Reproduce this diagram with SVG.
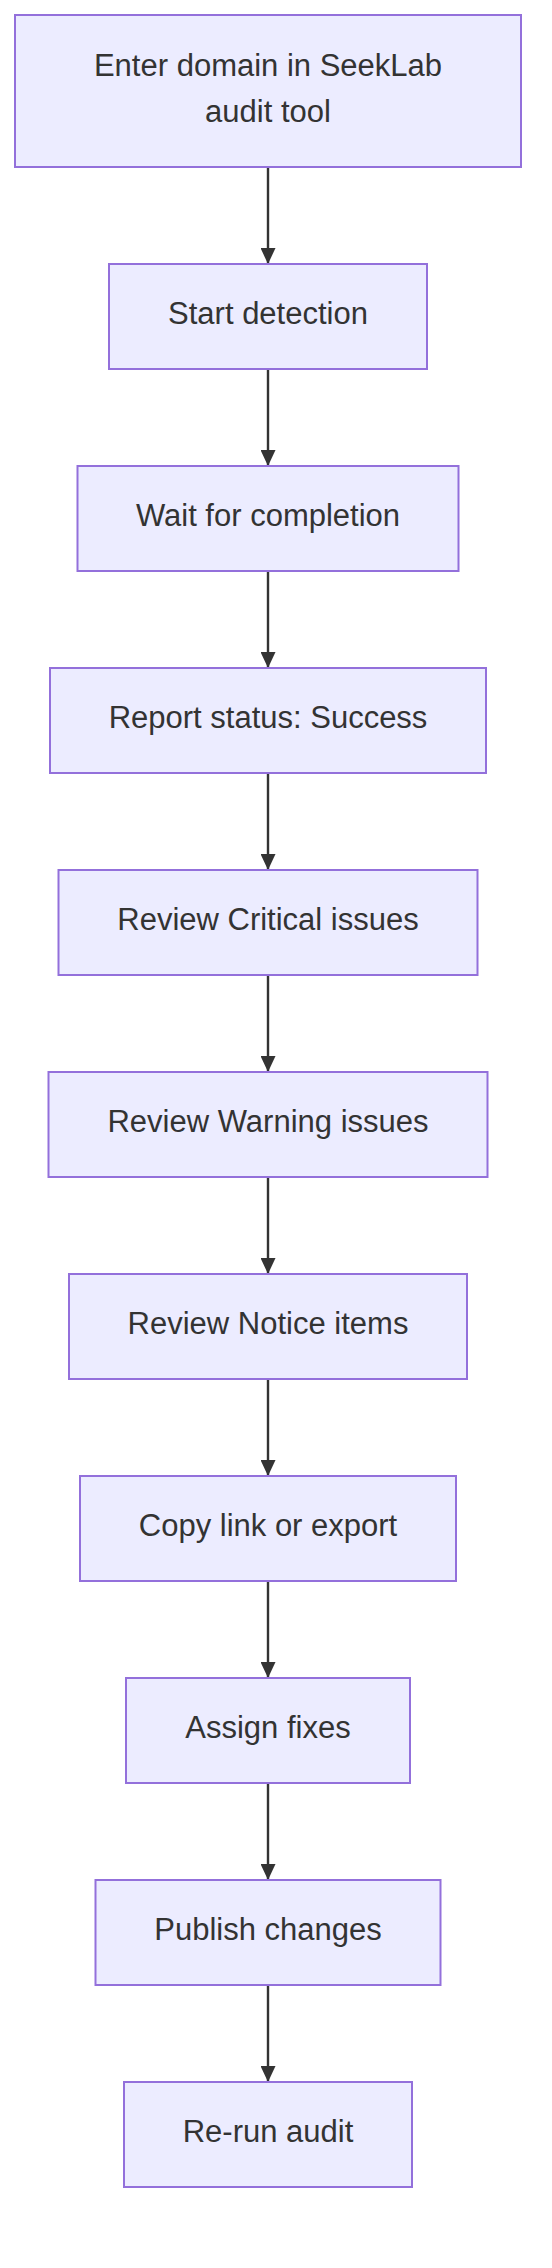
<svg xmlns="http://www.w3.org/2000/svg" width="552" height="2268" viewBox="0 0 552 2268">
<style>
.node rect{fill:#ECECFF;stroke:#9370DB;stroke-width:2}
.node text{font-family:"Liberation Sans",Arial,sans-serif;font-size:31px;fill:#333333;text-anchor:middle}
.edge{stroke:#333333;stroke-width:2.4;fill:none}
</style>
<defs>
<marker id="arrow" markerUnits="userSpaceOnUse" viewBox="0 0 16 15" refX="16" refY="7.5" markerWidth="16" markerHeight="15" orient="auto">
<path d="M0,0 L16,7.5 L0,15 Z" fill="#333333"/>
</marker>
</defs>
<rect width="552" height="2268" fill="#ffffff"/>
<g id="connectors">
<line class="edge" x1="268" y1="167" x2="268" y2="264" marker-end="url(#arrow)"/>
<line class="edge" x1="268" y1="369" x2="268" y2="466" marker-end="url(#arrow)"/>
<line class="edge" x1="268" y1="571" x2="268" y2="668" marker-end="url(#arrow)"/>
<line class="edge" x1="268" y1="773" x2="268" y2="870" marker-end="url(#arrow)"/>
<line class="edge" x1="268" y1="975" x2="268" y2="1072" marker-end="url(#arrow)"/>
<line class="edge" x1="268" y1="1177" x2="268" y2="1274" marker-end="url(#arrow)"/>
<line class="edge" x1="268" y1="1379" x2="268" y2="1476" marker-end="url(#arrow)"/>
<line class="edge" x1="268" y1="1581" x2="268" y2="1678" marker-end="url(#arrow)"/>
<line class="edge" x1="268" y1="1783" x2="268" y2="1880" marker-end="url(#arrow)"/>
<line class="edge" x1="268" y1="1985" x2="268" y2="2082" marker-end="url(#arrow)"/>
</g>
<g id="n1" class="node"><rect x="15" y="15" width="506" height="152"/><text x="268" y="76">Enter domain in SeekLab</text><text x="268" y="122">audit tool</text></g>
<g id="n2" class="node"><rect x="109" y="264" width="318" height="105"/><text x="268" y="324">Start detection</text></g>
<g id="n3" class="node"><rect x="77.5" y="466" width="381" height="105"/><text x="268" y="526">Wait for completion</text></g>
<g id="n4" class="node"><rect x="50" y="668" width="436" height="105"/><text x="268" y="728">Report status: Success</text></g>
<g id="n5" class="node"><rect x="58.5" y="870" width="419" height="105"/><text x="268" y="930">Review Critical issues</text></g>
<g id="n6" class="node"><rect x="48.5" y="1072" width="439" height="105"/><text x="268" y="1132">Review Warning issues</text></g>
<g id="n7" class="node"><rect x="69" y="1274" width="398" height="105"/><text x="268" y="1334">Review Notice items</text></g>
<g id="n8" class="node"><rect x="80" y="1476" width="376" height="105"/><text x="268" y="1536">Copy link or export</text></g>
<g id="n9" class="node"><rect x="126" y="1678" width="284" height="105"/><text x="268" y="1738">Assign fixes</text></g>
<g id="n10" class="node"><rect x="95.5" y="1880" width="345" height="105"/><text x="268" y="1940">Publish changes</text></g>
<g id="n11" class="node"><rect x="124" y="2082" width="288" height="105"/><text x="268" y="2142">Re-run audit</text></g>
</svg>
